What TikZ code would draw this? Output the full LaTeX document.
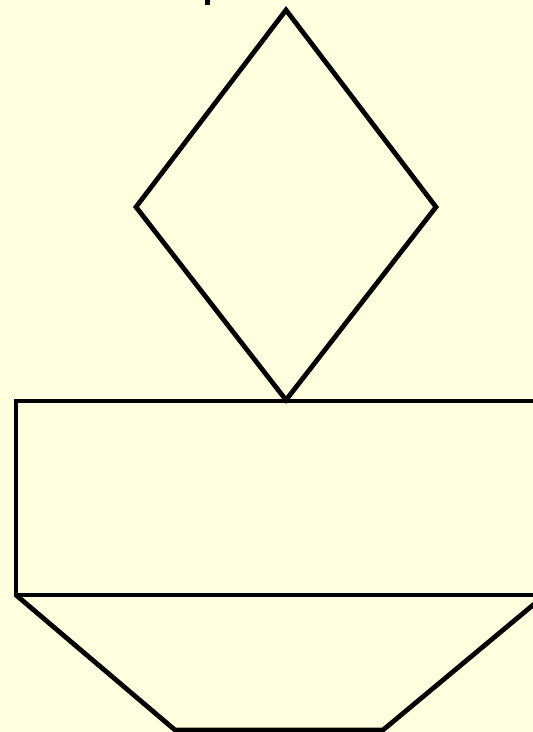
\documentclass[tikz,border=0pt]{standalone}
\usetikzlibrary{positioning}
\definecolor{paper}{RGB}{255,255,224}
\begin{document}
\begin{tikzpicture}[
    x=1pt, y=-1pt,
    outline/.style={draw=black, line width=4.8pt, line join=miter}
]
\fill[paper] (0,0) rectangle (533,732);
\useasboundingbox (0,0) rectangle (533,732);
\clip (0,0) rectangle (533,732);
% cut-off mark at the top edge
\fill[black] (205,0) rectangle (209.5,4.5);
% diamond
\draw[outline] (286,10) -- (436,207) -- (286,400) -- (136,207) -- cycle;
% box
\draw[outline] (16,401) rectangle (545,595);
% trapezium
\draw[outline] (16,595) -- (175,730) -- (383,730) -- (545,595);
\end{tikzpicture}
\end{document}
